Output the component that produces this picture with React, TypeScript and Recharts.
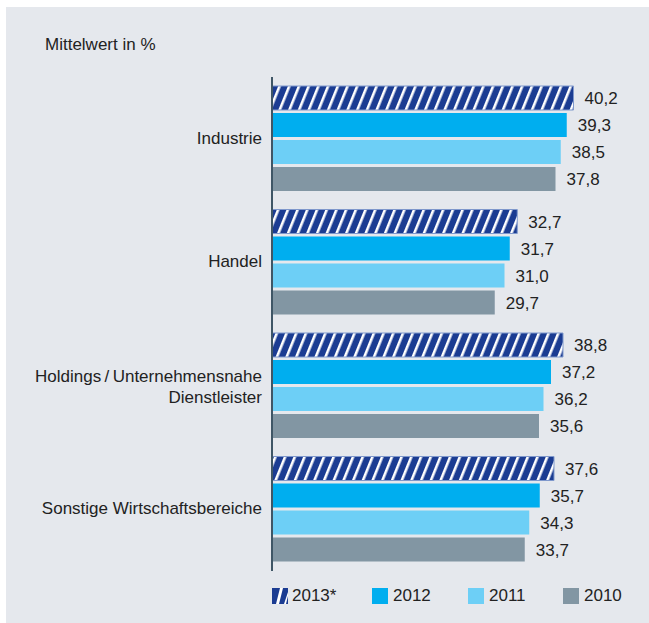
import React from 'react';
import { BarChart, Bar, XAxis, YAxis, LabelList } from 'recharts';

const categories = [
  'Industrie',
  'Handel',
  'Holdings\u2009/\u2009Unternehmensnahe\nDienstleister',
  'Sonstige Wirtschaftsbereiche',
];
const values2013 = [40.2, 32.7, 38.8, 37.6];
const values2012 = [39.3, 31.7, 37.2, 35.7];
const values2011 = [38.5, 31.0, 36.2, 34.3];
const values2010 = [37.8, 29.7, 35.6, 33.7];

const seriesNames = ['2013*', '2012', '2011', '2010'];
const seriesColors = ['url(#hatch2013)', '#00aeef', '#6dcff6', '#8296a3'];

const data = categories.map((name, i) => ({
  name,
  y2013: values2013[i],
  y2012: values2012[i],
  y2011: values2011[i],
  y2010: values2010[i],
}));

const seriesKeys = ['y2013', 'y2012', 'y2011', 'y2010'];

const FONT = '"Liberation Sans", Arial, Helvetica, sans-serif';
const FS = 17;
const fmt = (v: number) => v.toFixed(1).replace('.', ',');

function CategoryTick({ x, y, payload }: any) {
  const lines = String(payload.value).split('\n');
  const startDy = lines.length > 1 ? -4 : 5;
  return (
    <text x={x} y={y} textAnchor="end" fill="#222" fontSize={FS} fontFamily={FONT}>
      {lines.map((line, i) => (
        <tspan key={line} x={x} dy={i === 0 ? startDy : 21}>
          {line}
        </tspan>
      ))}
    </text>
  );
}

function LegendSwatch({ index }: { index: number }) {
  if (index === 0) {
    return (
      <svg width={16} height={16} style={{ marginRight: 4 }}>
        <rect x={0} y={0} width={16} height={16} fill="#1b3c92" />
        <polygon points="4,16 7,16 11,0 8,0" fill="#fff" />
        <polygon points="12,16 14,16 16,8 16,4" fill="#fff" />
      </svg>
    );
  }
  return (
    <span
      style={{
        display: 'inline-block',
        width: 16,
        height: 16,
        background: seriesColors[index],
        marginRight: 5,
      }}
    />
  );
}

export default function App() {
  return (
    <div
      style={{
        position: 'absolute',
        left: 6,
        top: 7,
        width: 643,
        height: 616,
        background: '#e5e8ed',
        fontFamily: FONT,
      }}
    >
      <div style={{ position: 'absolute', left: 39, top: 28, fontSize: FS, color: '#222' }}>
        Mittelwert in %
      </div>
      <BarChart
        width={643}
        height={616}
        data={data}
        layout="vertical"
        margin={{ top: 70, right: 2, left: 0, bottom: 52 }}
        barSize={24}
        barGap={3}
        barCategoryGap={9}
      >
        <defs>
          <pattern
            id="hatch2013"
            patternUnits="userSpaceOnUse"
            width={9}
            height={9}
            patternTransform="rotate(22)"
          >
            <rect x={0} y={0} width={9} height={9} fill="#1b3c92" />
            <rect x={3} y={0} width={2.6} height={9} fill="#fff" />
          </pattern>
        </defs>
        <XAxis type="number" domain={[0, 50]} hide />
        <YAxis
          type="category"
          dataKey="name"
          width={266}
          axisLine={{ stroke: '#3f5666', strokeWidth: 2 }}
          tickLine={false}
          tick={<CategoryTick />}
          tickMargin={4}
          interval={0}
        />
        {seriesKeys.map((key, i) => (
          <Bar
            key={key}
            dataKey={key}
            name={seriesNames[i]}
            fill={seriesColors[i]}
            stroke={i === 0 ? '#7f98cc' : undefined}
            strokeWidth={i === 0 ? 1 : 0}
            isAnimationActive={false}
          >
            <LabelList
              dataKey={key}
              position="right"
              offset={11}
              formatter={(v: any) => fmt(Number(v))}
              fill="#222"
              fontSize={FS}
              fontFamily={FONT}
            />
          </Bar>
        ))}
      </BarChart>
      <div
        style={{
          position: 'absolute',
          top: 580,
          left: 0,
          width: 643,
          height: 18,
          fontSize: FS,
          color: '#222',
        }}
      >
        {seriesNames.map((name, i) => (
          <div
            key={name}
            style={{
              position: 'absolute',
              left: [266, 366, 462, 557][i],
              top: 0,
              display: 'flex',
              alignItems: 'center',
              height: 18,
            }}
          >
            <LegendSwatch index={i} />
            <span>{name}</span>
          </div>
        ))}
      </div>
    </div>
  );
}
